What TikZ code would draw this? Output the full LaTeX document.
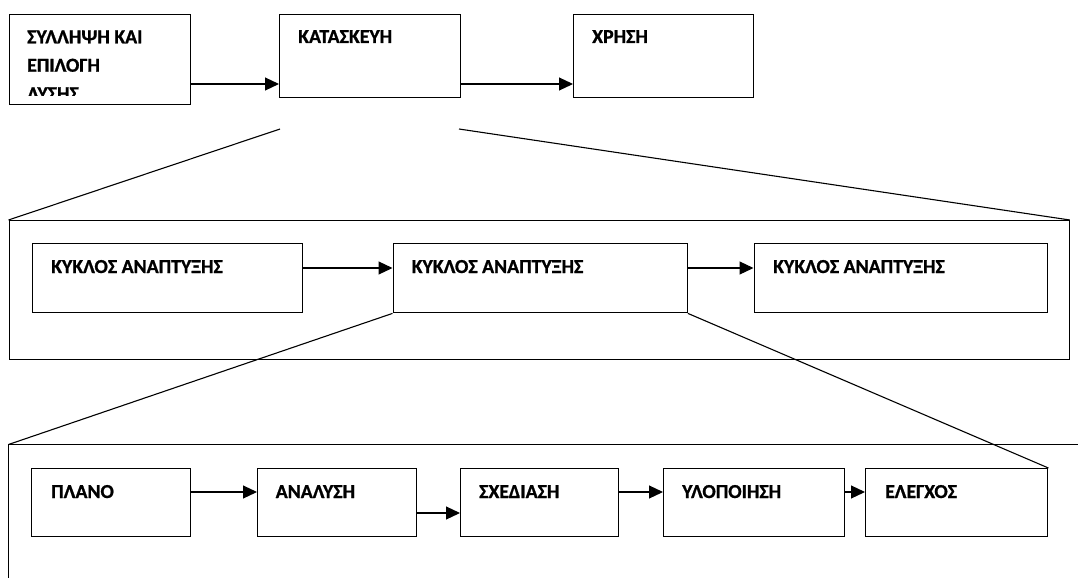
\documentclass[tikz,border=0pt]{standalone}
\usepackage{fontspec}
\setmainfont{Carlito}[BoldFont={Carlito Bold}, BoldFeatures={FakeBold=1}]
\usetikzlibrary{arrows.meta}
\begin{document}
\begin{tikzpicture}[x=1pt,y=-1pt,
  box/.style={draw, line width=1.4pt, rectangle, inner sep=0pt, anchor=north west},
  lbl/.style={anchor=base west, inner sep=0pt, font=\fontsize{19.8}{23}\selectfont\bfseries},
  arr/.style={line width=1.1pt, -{Triangle[length=14pt,width=13pt]}},
  link/.style={line width=1.1pt}]
\useasboundingbox (0,0) rectangle (1078,578);

% top level: life cycle phases
\node[box, minimum width=181pt, minimum height=90pt] (t1) at (8.5,14) {};
\node[box, minimum width=181pt, minimum height=83pt] (t2) at (279,14) {};
\node[box, minimum width=180pt, minimum height=83pt] (t3) at (573,14) {};

\begin{scope}
  \clip (8.5,14) rectangle (189,95.5);
  \node[lbl] (t1a) at (27,43.3) {ΣΥΛΛΗΨΗ ΚΑΙ};
  \node[lbl] (t1b) at (27,71.7) {ΕΠΙΛΟΓΗ};
  \node[lbl] (t1c) at (27,100.1) {ΛΥΣΗΣ};
\end{scope}
\node[lbl] (t2a) at (298,43) {ΚΑΤΑΣΚΕΥΗ};
\node[lbl] (t3a) at (592,43) {ΧΡΗΣΗ};

\draw[arr] (t1.east |- 0,84) -- (t2.west |- 0,84);
\draw[arr] (t2.east |- 0,84) -- (t3.west |- 0,84);

% middle level: development cycles
\node[box, minimum width=1060pt, minimum height=139pt] (f2) at (8.5,220) {};
\node[box, minimum width=270.5pt, minimum height=69pt] (mA) at (31.5,243) {};
\node[box, minimum width=294pt, minimum height=69pt] (mB) at (392.5,243) {};
\node[box, minimum width=293.5pt, minimum height=69pt] (mC) at (753.5,243) {};
\node[lbl] (mAt) at (51,273) {ΚΥΚΛΟΣ ΑΝΑΠΤΥΞΗΣ};
\node[lbl] (mBt) at (411.5,273) {ΚΥΚΛΟΣ ΑΝΑΠΤΥΞΗΣ};
\node[lbl] (mCt) at (773,273) {ΚΥΚΛΟΣ ΑΝΑΠΤΥΞΗΣ};
\draw[arr] (mA.east |- 0,268) -- (mB.west |- 0,268);
\draw[arr] (mB.east |- 0,268) -- (mC.west |- 0,268);

\coordinate (zl) at (280,129);
\coordinate (zr) at (459,129);
\draw[link] (zl) -- (f2.north west);
\draw[link] (zr) -- (f2.north east);

% bottom level: steps of one cycle
\coordinate (f3) at (8.5,444.5);
\coordinate (f3r) at (1078,444.5);
\coordinate (f3b) at (8.5,578);
\draw[line width=1.4pt] (f3r) -- (f3) -- (f3b);

\node[box, minimum width=158.5pt, minimum height=68pt] (b1) at (31,468) {};
\node[box, minimum width=158.5pt, minimum height=68pt] (b2) at (257,468) {};
\node[box, minimum width=158pt, minimum height=68pt] (b3) at (460,468) {};
\node[box, minimum width=181pt, minimum height=68pt] (b4) at (663,468) {};
\node[box, minimum width=182pt, minimum height=68pt] (b5) at (865,468) {};
\node[lbl] (b1t) at (51,498) {ΠΛΑΝΟ};
\node[lbl] (b2t) at (275.5,498) {ΑΝΑΛΥΣΗ};
\node[lbl] (b3t) at (479,498) {ΣΧΕΔΙΑΣΗ};
\node[lbl] (b4t) at (682,498) {ΥΛΟΠΟΙΗΣΗ};
\node[lbl] (b5t) at (885,498) {ΕΛΕΓΧΟΣ};
\draw[arr] (b1.east |- 0,492) -- (b2.west |- 0,492);
\draw[arr] (b2.east |- 0,513) -- (b3.west |- 0,513);
\draw[arr] (b3.east |- 0,492) -- (b4.west |- 0,492);
\draw[arr] (b4.east |- 0,492) -- (b5.west |- 0,492);

\draw[link] (mB.south west) -- (f3);
\draw[link] (mB.south east) -- (b5.north east);
\end{tikzpicture}
\end{document}
